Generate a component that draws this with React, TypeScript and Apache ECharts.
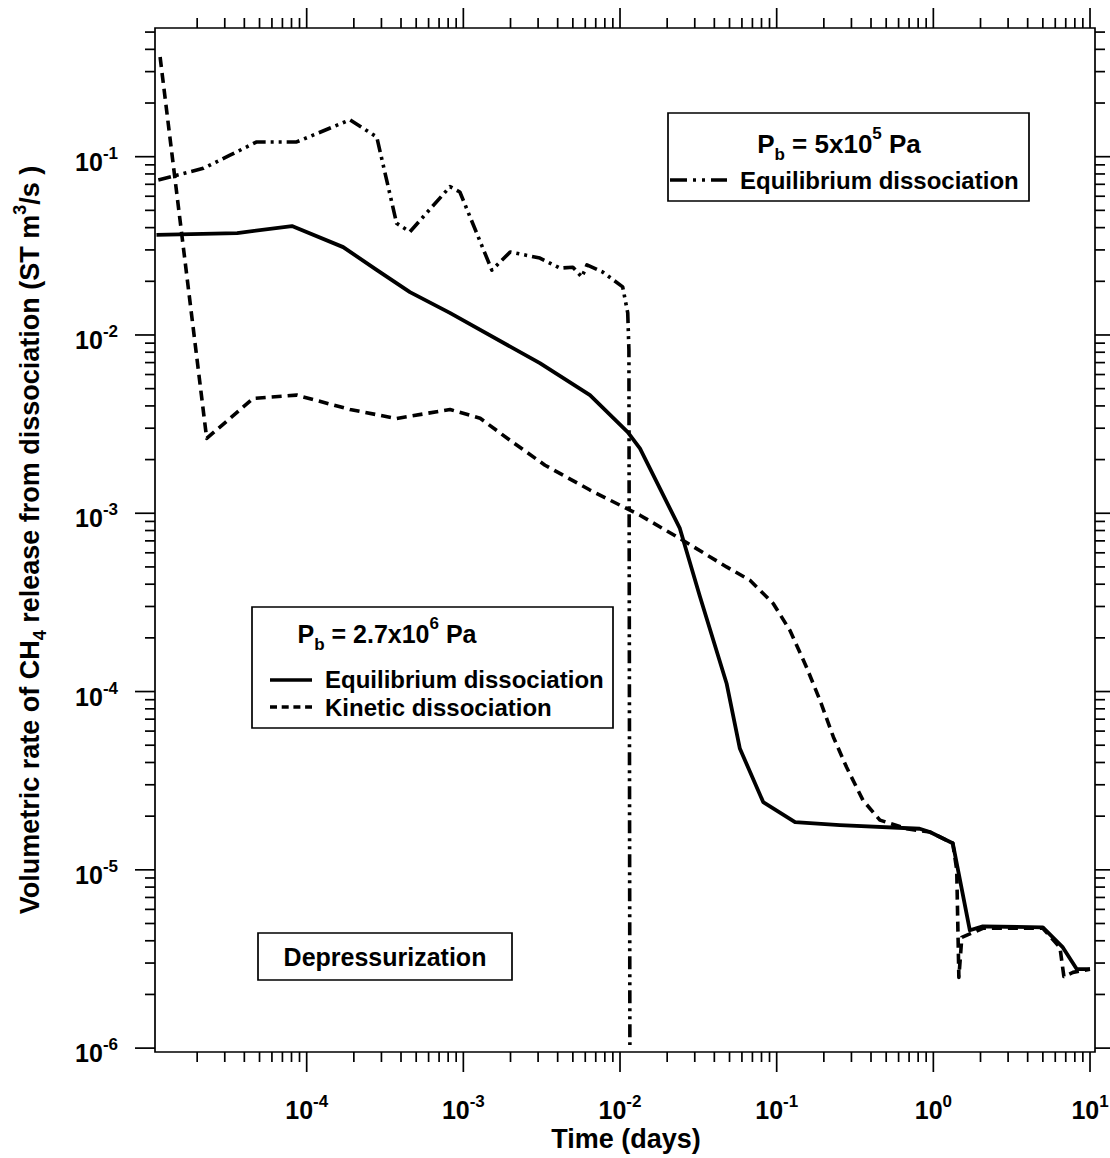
import React, { useEffect, useRef } from "react";
import * as echarts from "echarts";

const FONT = '"Liberation Sans", Arial, Helvetica, sans-serif';

// Equilibrium dissociation, Pb = 2.7x10^6 Pa (solid)
const eqHighTime = [1.1e-5, 3.6e-5, 8.05e-5, 1.71e-4, 2.81e-4, 4.56e-4, 8.2e-4, 3.08e-3, 6.43e-3, 0.0112, 0.0134, 0.0241, 0.0324, 0.0479, 0.0582, 0.082, 0.131, 0.253, 0.818, 0.95, 1.33, 1.71, 2.07, 5.0, 6.71, 8.24, 10.0];
const eqHighRate = [0.0364, 0.0373, 0.0408, 0.0311, 0.0231, 0.0174, 0.0133, 6.95e-3, 4.6e-3, 2.85e-3, 2.31e-3, 8.22e-4, 3.4e-4, 1.11e-4, 4.79e-5, 2.4e-5, 1.85e-5, 1.78e-5, 1.7e-5, 1.63e-5, 1.41e-5, 4.58e-6, 4.82e-6, 4.75e-6, 3.67e-6, 2.77e-6, 2.77e-6];

// Kinetic dissociation, Pb = 2.7x10^6 Pa (dashed)
const kinTime = [1.16e-5, 2.3e-5, 4.56e-5, 8.63e-5, 1.89e-4, 3.75e-4, 8.22e-4, 1.28e-3, 1.98e-3, 3.32e-3, 6.43e-3, 0.0134, 0.0241, 0.0479, 0.0675, 0.095, 0.1216, 0.155, 0.189, 0.23, 0.279, 0.356, 0.456, 0.674, 0.95, 1.33, 1.41, 1.455, 1.52, 2.07, 5.0, 6.43, 6.81, 7.78, 10.0];
const kinRate = [0.362, 2.63e-3, 4.41e-3, 4.6e-3, 3.82e-3, 3.4e-3, 3.82e-3, 3.41e-3, 2.57e-3, 1.86e-3, 1.35e-3, 9.75e-4, 7.22e-4, 5.0e-4, 4.21e-4, 3.12e-4, 2.2e-4, 1.37e-4, 8.93e-5, 5.56e-5, 3.77e-5, 2.45e-5, 1.9e-5, 1.7e-5, 1.63e-5, 1.41e-5, 1.0e-5, 2.49e-6, 4.18e-6, 4.7e-6, 4.7e-6, 3.67e-6, 2.52e-6, 2.66e-6, 2.77e-6];

// Equilibrium dissociation, Pb = 5x10^5 Pa (dash-dot-dot)
const eqLowTime = [1.13e-5, 2.19e-5, 3.24e-5, 4.8e-5, 8.63e-5, 1.89e-4, 2.8e-4, 3.75e-4, 4.56e-4, 8.22e-4, 9.5e-4, 1.52e-3, 1.99e-3, 3.08e-3, 4.14e-3, 5.0e-3, 5.71e-3, 6.15e-3, 7.78e-3, 0.0104, 0.0112, 0.0114, 0.01156];
const eqLowRate = [0.074, 0.086, 0.102, 0.121, 0.121, 0.161, 0.129, 0.0423, 0.0379, 0.0679, 0.0634, 0.0231, 0.0292, 0.027, 0.0237, 0.024, 0.0211, 0.0247, 0.0225, 0.0186, 0.0133, 8.2e-3, 1.04e-6];

const xMajorTicks = [1e-4, 1e-3, 1e-2, 1e-1, 1, 10];
const xMajorExp = ["-4", "-3", "-2", "-1", "0", "1"];
const yMajorTicks = [1e-6, 1e-5, 1e-4, 1e-3, 1e-2, 1e-1];
const yMajorExp = ["-6", "-5", "-4", "-3", "-2", "-1"];
const minorMantissas = [2, 3, 4, 5, 6, 7, 8, 9];

const X_MIN = 1.076e-5;
const X_MAX = 10.76;
const Y_MIN = 9.51e-7;
const Y_MAX = 0.527;

function zip(a: number[], b: number[]) {
  return a.map((v, i) => [v, b[i]]);
}

function minorTicks(lo: number, hi: number) {
  const out: number[] = [];
  for (let e = -8; e <= 2; e++) {
    for (const m of minorMantissas) {
      const v = m * Math.pow(10, e);
      if (v >= lo && v <= hi) out.push(v);
    }
  }
  return out;
}

const tickRich = {
  n: { fontSize: 25, fontWeight: "bold", fontFamily: FONT, lineHeight: 34, fill: "#000" },
  s: { fontSize: 17, fontWeight: "bold", fontFamily: FONT, lineHeight: 14, verticalAlign: "top", fill: "#000" },
};

const titleRich = (size: number, small: number) => ({
  n: { fontSize: size, fontWeight: "bold", fontFamily: FONT, lineHeight: 38, fill: "#000" },
  sup: { fontSize: small, fontWeight: "bold", fontFamily: FONT, lineHeight: 14, verticalAlign: "top", fill: "#000" },
  sub: { fontSize: small, fontWeight: "bold", fontFamily: FONT, lineHeight: 14, verticalAlign: "bottom", fill: "#000" },
});

export default function App() {
  const ref = useRef<HTMLDivElement>(null);

  useEffect(() => {
    if (!ref.current) return;
    const chart = echarts.init(ref.current, undefined, { renderer: "svg" });

    const xMinor = minorTicks(X_MIN, X_MAX);
    const yMinor = minorTicks(Y_MIN, Y_MAX);

    const renderTicks = (params: any, api: any) => {
      const cs = params.coordSys;
      const L = cs.x;
      const T = cs.y;
      const R = cs.x + cs.width;
      const B = cs.y + cs.height;
      const st = { stroke: "#000", lineWidth: 1.7 };
      const children: any[] = [];
      const addX = (v: number, len: number) => {
        const px = api.coord([v, 1e-3])[0];
        if (px < L - 0.5 || px > R + 0.5) return;
        children.push({ type: "line", shape: { x1: px, y1: B, x2: px, y2: B + len }, style: st });
        children.push({ type: "line", shape: { x1: px, y1: T, x2: px, y2: T - len }, style: st });
      };
      const addY = (v: number, len: number) => {
        const py = api.coord([1e-3, v])[1];
        if (py < T - 0.5 || py > B + 0.5) return;
        children.push({ type: "line", shape: { x1: L - len, y1: py, x2: L, y2: py }, style: st });
        children.push({ type: "line", shape: { x1: R, y1: py, x2: R + len, y2: py }, style: st });
      };
      xMinor.forEach((v) => addX(v, 10));
      yMinor.forEach((v) => addY(v, 10));
      xMajorTicks.forEach((v, i) => {
        addX(v, 20);
        const px = api.coord([v, 1e-3])[0];
        children.push({
          type: "text",
          x: px,
          y: B + 58,
          style: {
            text: `{n|10}{s|${xMajorExp[i]}}`,
            rich: tickRich,
            textAlign: "center",
            textVerticalAlign: "middle",
            fill: "#000",
          },
        });
      });
      yMajorTicks.forEach((v, i) => {
        addY(v, 20);
        const py = api.coord([1e-3, v])[1];
        children.push({
          type: "text",
          x: L - 37,
          y: py + 5,
          style: {
            text: `{n|10}{s|${yMajorExp[i]}}`,
            rich: tickRich,
            textAlign: "right",
            textVerticalAlign: "middle",
            fill: "#000",
          },
        });
      });
      return { type: "group", children };
    };

    const option: any = {
      animation: false,
      backgroundColor: "#fff",
      grid: {
        left: 155,
        right: 15,
        top: 28,
        bottom: 106,
        show: true,
        borderColor: "#000",
        borderWidth: 1.7,
        backgroundColor: "transparent",
      },
      xAxis: {
        type: "log",
        logBase: 10,
        min: X_MIN,
        max: X_MAX,
        axisLine: { show: false },
        axisTick: { show: false },
        axisLabel: { show: false },
        splitLine: { show: false },
      },
      yAxis: {
        type: "log",
        logBase: 10,
        min: Y_MIN,
        max: Y_MAX,
        axisLine: { show: false },
        axisTick: { show: false },
        axisLabel: { show: false },
        splitLine: { show: false },
      },
      series: [
        {
          name: "Equilibrium dissociation (Pb = 2.7x10^6 Pa)",
          type: "line",
          data: zip(eqHighTime, eqHighRate),
          showSymbol: false,
          symbol: "none",
          lineStyle: { color: "#000", width: 3.8, type: "solid", join: "round" },
          z: 3,
        },
        {
          name: "Kinetic dissociation (Pb = 2.7x10^6 Pa)",
          type: "line",
          data: zip(kinTime, kinRate),
          showSymbol: false,
          symbol: "none",
          lineStyle: { color: "#000", width: 3.6, type: [10, 6], cap: "butt", join: "round" },
          z: 3,
        },
        {
          name: "Equilibrium dissociation (Pb = 5x10^5 Pa)",
          type: "line",
          data: zip(eqLowTime, eqLowRate),
          showSymbol: false,
          symbol: "none",
          lineStyle: { color: "#000", width: 3.6, type: [13, 5, 3, 5, 3, 5], cap: "butt", join: "round" },
          z: 3,
        },
        {
          type: "custom",
          coordinateSystem: "cartesian2d",
          data: [[1e-3, 1e-3]],
          renderItem: renderTicks,
          silent: true,
          clip: false,
          z: 5,
        },
      ],
      graphic: [
        {
          type: "text",
          x: 626,
          y: 1139,
          style: {
            text: "Time (days)",
            fontSize: 27,
            fontWeight: "bold",
            fontFamily: FONT,
            textAlign: "center",
            textVerticalAlign: "middle",
            fill: "#000",
          },
        },
        {
          type: "text",
          x: 30,
          y: 540,
          rotation: Math.PI / 2,
          style: {
            text: "{n|Volumetric rate of CH}{sub|4}{n| release from dissociation (ST m}{sup|3}{n|/s )}",
            rich: titleRich(27, 18),
            textAlign: "center",
            textVerticalAlign: "middle",
            fill: "#000",
          },
        },
        {
          type: "rect",
          shape: { x: 668, y: 113, width: 361, height: 88 },
          style: { fill: "#fff", stroke: "#000", lineWidth: 1.7 },
          z: 10,
        },
        {
          type: "text",
          x: 839,
          y: 144,
          z: 11,
          style: {
            text: "{n|P}{sub|b}{n| = 5x10}{sup|5}{n| Pa}",
            rich: titleRich(26, 17),
            textAlign: "center",
            textVerticalAlign: "middle",
            fill: "#000",
          },
        },
        {
          type: "line",
          shape: { x1: 670, y1: 180, x2: 727, y2: 180 },
          style: { stroke: "#000", lineWidth: 3.6, lineDash: [17, 6, 3, 6, 3, 6] },
          z: 11,
        },
        {
          type: "text",
          x: 740,
          y: 180,
          z: 11,
          style: {
            text: "Equilibrium dissociation",
            fontSize: 24,
            fontWeight: "bold",
            fontFamily: FONT,
            textAlign: "left",
            textVerticalAlign: "middle",
            fill: "#000",
          },
        },
        {
          type: "rect",
          shape: { x: 252, y: 607, width: 361, height: 121 },
          style: { fill: "#fff", stroke: "#000", lineWidth: 1.7 },
          z: 10,
        },
        {
          type: "text",
          x: 387,
          y: 634,
          z: 11,
          style: {
            text: "{n|P}{sub|b}{n| = 2.7x10}{sup|6}{n| Pa}",
            rich: titleRich(25, 17),
            textAlign: "center",
            textVerticalAlign: "middle",
            fill: "#000",
          },
        },
        {
          type: "line",
          shape: { x1: 270, y1: 680, x2: 312, y2: 680 },
          style: { stroke: "#000", lineWidth: 3.6 },
          z: 11,
        },
        {
          type: "text",
          x: 325,
          y: 679,
          z: 11,
          style: {
            text: "Equilibrium dissociation",
            fontSize: 24,
            fontWeight: "bold",
            fontFamily: FONT,
            textAlign: "left",
            textVerticalAlign: "middle",
            fill: "#000",
          },
        },
        {
          type: "line",
          shape: { x1: 270, y1: 707, x2: 312, y2: 707 },
          style: { stroke: "#000", lineWidth: 3.6, lineDash: [7, 4.7] },
          z: 11,
        },
        {
          type: "text",
          x: 325,
          y: 707,
          z: 11,
          style: {
            text: "Kinetic dissociation",
            fontSize: 24,
            fontWeight: "bold",
            fontFamily: FONT,
            textAlign: "left",
            textVerticalAlign: "middle",
            fill: "#000",
          },
        },
        {
          type: "rect",
          shape: { x: 258, y: 933, width: 254, height: 47 },
          style: { fill: "#fff", stroke: "#000", lineWidth: 1.7 },
          z: 10,
        },
        {
          type: "text",
          x: 385,
          y: 957,
          z: 11,
          style: {
            text: "Depressurization",
            fontSize: 25,
            fontWeight: "bold",
            fontFamily: FONT,
            textAlign: "center",
            textVerticalAlign: "middle",
            fill: "#000",
          },
        },
      ],
    };

    chart.setOption(option);
    return () => {
      chart.dispose();
    };
  }, []);

  return (
    <div
      ref={ref}
      style={{ position: "absolute", left: 0, top: 0, width: 1110, height: 1158, background: "#fff" }}
    />
  );
}
